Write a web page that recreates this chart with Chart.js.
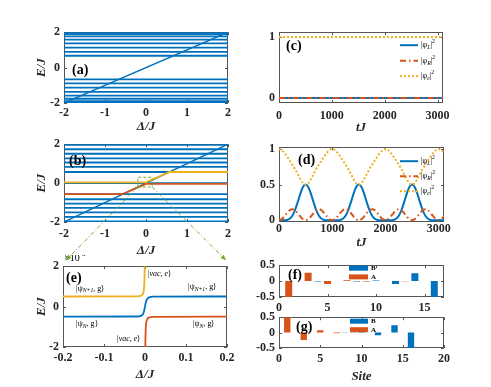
<!DOCTYPE html>
<html lang="en">
<head>
<meta charset="UTF-8">
<title>Spectrum, dynamics and edge states</title>
<script src="https://cdn.jsdelivr.net/npm/chart.js"></script>
<style>
  body { margin: 0; background: #fff; }
  #fig { position: relative; width: 491px; height: 387px; overflow: hidden; background: #fff; }
  #fig canvas { position: absolute; }
</style>
</head>
<body>
<div id="fig">
  <canvas id="pa" width="206" height="113" style="left:34px;top:21px"></canvas>
  <canvas id="pb" width="206" height="125" style="left:34px;top:133px"></canvas>
  <canvas id="pc" width="217" height="114" style="left:239px;top:21px"></canvas>
  <canvas id="pd" width="217" height="114" style="left:239px;top:136px"></canvas>
  <canvas id="pe" width="205" height="127" style="left:34px;top:255px"></canvas>
  <canvas id="pf" width="217" height="59" style="left:239px;top:254px"></canvas>
  <canvas id="pg" width="217" height="78" style="left:239px;top:306px"></canvas>
  <canvas id="arrows" width="491" height="387" style="left:0;top:0"></canvas>
</div>

<script>
  // ---------- data ----------
  const deltaRange = [-2, 2];
  const levelsA = [1.97, 1.89, 1.76, 1.58, 1.37, 1.13, 0.89, 0.67, -0.67, -0.89, -1.13, -1.37, -1.58, -1.76, -1.89, -1.97];
  const levelsB = [1.97, 1.74, 1.51, 1.27, 1.06, 0.83, 0.57, -0.57, -0.83, -1.06, -1.27, -1.51, -1.74, -1.97];
  const diagX = [-2, 2];
  const diagY = [-2, 2];
  const bBlueX = [-2, 2];
  const bBlueY = [0, 0];
  const bRedX = [-2, -0.57, 0, 2];
  const bRedY = [-0.57, -0.57, -0.04, -0.04];
  const bYellowX = [-2, 0, 0.57, 2];
  const bYellowY = [0.04, 0.04, 0.57, 0.57];
  const zoomBoxX = [-0.2, 0.15, 0.15, -0.2, -0.2];
  const zoomBoxY = [-0.2, -0.2, 0.3, 0.3, -0.2];

  const tC = [0, 3100];
  const cL = [0, 0];
  const cR = [0, 0];
  const cE = [1, 1];

  const tD = [0, 50, 100, 150, 200, 250, 300, 350, 400, 450, 500, 550, 600, 650, 700, 750, 800, 850, 900, 950,
    1000, 1050, 1100, 1150, 1200, 1250, 1300, 1350, 1400, 1450, 1500, 1550, 1600, 1650, 1700, 1750, 1800, 1850, 1900, 1950,
    2000, 2050, 2100, 2150, 2200, 2250, 2300, 2350, 2400, 2450, 2500, 2550, 2600, 2650, 2700, 2750, 2800, 2850, 2900, 2950,
    3000, 3050, 3100];
  const dL = [0, 0, 0, 0.004, 0.021, 0.062, 0.14, 0.25, 0.37, 0.465, 0.5, 0.465, 0.37, 0.25, 0.14, 0.062, 0.021, 0.004, 0, 0,
    0, 0, 0, 0.004, 0.021, 0.062, 0.14, 0.25, 0.37, 0.465, 0.5, 0.465, 0.37, 0.25, 0.14, 0.062, 0.021, 0.004, 0, 0,
    0, 0, 0, 0.004, 0.021, 0.062, 0.14, 0.25, 0.37, 0.465, 0.5, 0.465, 0.37, 0.25, 0.14, 0.062, 0.021, 0.004, 0, 0,
    0, 0, 0];
  const dR = [0, 0.015, 0.053, 0.1, 0.14, 0.155, 0.14, 0.1, 0.053, 0.015, 0, 0.015, 0.053, 0.1, 0.14, 0.155, 0.14, 0.1, 0.053, 0.015,
    0, 0.015, 0.053, 0.1, 0.14, 0.155, 0.14, 0.1, 0.053, 0.015, 0, 0.015, 0.053, 0.1, 0.14, 0.155, 0.14, 0.1, 0.053, 0.015,
    0, 0.015, 0.053, 0.1, 0.14, 0.155, 0.14, 0.1, 0.053, 0.015, 0, 0.015, 0.053, 0.1, 0.14, 0.155, 0.14, 0.1, 0.053, 0.015,
    0, 0.015, 0.053];
  const dE = [1, 0.985, 0.947, 0.896, 0.839, 0.78, 0.72, 0.65, 0.577, 0.52, 0.5, 0.52, 0.577, 0.65, 0.72, 0.78, 0.839, 0.896, 0.947, 0.985,
    1, 0.985, 0.947, 0.896, 0.839, 0.78, 0.72, 0.65, 0.577, 0.52, 0.5, 0.52, 0.577, 0.65, 0.72, 0.78, 0.839, 0.896, 0.947, 0.985,
    1, 0.985, 0.947, 0.896, 0.839, 0.78, 0.72, 0.65, 0.577, 0.52, 0.5, 0.52, 0.577, 0.65, 0.72, 0.78, 0.839, 0.896, 0.947, 0.985,
    1, 0.985, 0.947];

  // (e) zoom near Delta = 0, energies in units of 1e-3
  const eYellowX = [-0.2, -0.02, -0.01, -0.006, -0.004, -0.002, -0.001, 0];
  const eYellowY = [0.5, 0.51, 0.54, 0.6, 0.7, 1.0, 1.6, 3];
  const eBlueX = [-0.2, -0.02, -0.01, -0.006, -0.004, -0.002, 0, 0.002, 0.004, 0.006, 0.01, 0.02, 0.2];
  const eBlueY = [-0.5, -0.49, -0.46, -0.4, -0.33, -0.2, 0, 0.2, 0.33, 0.4, 0.46, 0.49, 0.5];
  const eRedX = [0, 0.001, 0.002, 0.004, 0.006, 0.01, 0.02, 0.2];
  const eRedY = [-3, -1.6, -1.0, -0.7, -0.6, -0.54, -0.51, -0.5];

  const sitesA = [1, 3, 5, 7, 9, 11, 13, 15];
  const sitesB = [2, 4, 6, 8, 10, 12, 14, 16];
  const fA = [-0.64, 0.26, -0.09, 0.03, -0.015, 0, -0.005, 0];
  const fB = [0, -0.01, 0, -0.01, 0.02, -0.09, 0.25, -0.64];
  const gA = [0.64, -0.24, 0.08, -0.02, 0.01, 0, 0, 0];
  const gB = [0, 0, 0, 0.01, 0.03, -0.09, 0.24, -0.64];

  const ticksDelta = [-2, -1, 0, 1, 2];
  const ticksE = [-2, 0, 2];
  const ticksT = [0, 1000, 2000, 3000];
  const ticksC = [0, 1];
  const ticksD = [0, 0.5, 1];
  const ticksZoomX = [-0.2, -0.1, 0, 0.1, 0.2];
  const ticksSiteF = [0, 5, 10, 15];
  const ticksSiteG = [0, 5, 10, 15, 20];
  const ticksAmp = [-0.5, 0, 0.5];

  // ---------- styling ----------
  const blue = '#0072BD', orange = '#D95319', yellow = '#EDB120', green = '#77AC30';
  const ink = '#262626';
  const serif = "'Liberation Serif', 'Times New Roman', serif";
  Chart.defaults.font.family = serif;
  Chart.defaults.font.size = 12;
  Chart.defaults.font.weight = 'bold';
  Chart.defaults.color = ink;
  const titleFont = { family: serif, size: 13, weight: 'bold', style: 'italic', lineHeight: 1.2 };

  function pts(xs, ys) {
    return xs.map((x, i) => ({ x: x, y: ys[i] }));
  }
  function line(xs, ys, color, width, dash, order) {
    return { data: pts(xs, ys), borderColor: color, borderWidth: width, borderDash: dash || [],
      pointRadius: 0, fill: false, tension: 0, order: order || 0 };
  }
  function curve(xs, ys, color, width, dash, order) {
    const d = line(xs, ys, color, width, dash, order);
    d.cubicInterpolationMode = 'monotone';
    return d;
  }

  function xAxis(min, max, ticks, height, pad, title) {
    return {
      type: 'linear', min: min, max: max, offset: false,
      grid: { display: false, drawTicks: false, offset: false }, border: { display: false },
      ticks: { padding: pad, autoSkip: false, maxRotation: 0, callback: v => String(v) },
      afterBuildTicks: s => { s.ticks = ticks.map(v => ({ value: v })); },
      afterFit: s => { s.height = height; },
      title: { display: !!title, text: title || '', font: titleFont, color: ink, padding: 0 }
    };
  }
  function yAxis(min, max, ticks, width, title) {
    return {
      type: 'linear', min: min, max: max,
      grid: { display: false, drawTicks: false }, border: { display: false },
      ticks: { padding: 4, autoSkip: false, callback: v => String(v) },
      afterBuildTicks: s => { s.ticks = ticks.map(v => ({ value: v })); },
      afterFit: s => { s.width = width; },
      title: { display: !!title, text: title || '', font: titleFont, color: ink, padding: 0 }
    };
  }

  // box with inward ticks on all four sides, like the original axes
  const frame = {
    id: 'frame',
    beforeDatasetsDraw(chart) {
      const { ctx, chartArea: a, scales } = chart;
      ctx.save();
      ctx.strokeStyle = '#555';
      ctx.lineWidth = 1;
      ctx.strokeRect(Math.round(a.left) + 0.5, Math.round(a.top) + 0.5, Math.round(a.width) - 1, Math.round(a.height) - 1);
      ctx.beginPath();
      scales.x.ticks.forEach(t => {
        const p = Math.round(scales.x.getPixelForValue(t.value)) + 0.5;
        ctx.moveTo(p, a.bottom); ctx.lineTo(p, a.bottom - 3);
        ctx.moveTo(p, a.top); ctx.lineTo(p, a.top + 3);
      });
      scales.y.ticks.forEach(t => {
        const p = Math.round(scales.y.getPixelForValue(t.value)) + 0.5;
        ctx.moveTo(a.left, p); ctx.lineTo(a.left + 3, p);
        ctx.moveTo(a.right, p); ctx.lineTo(a.right - 3, p);
      });
      ctx.stroke();
      ctx.restore();
    }
  };

  // text with sub/superscripts: parts = [[text, 'sub'|'sup'|'', italic]]
  function rich(ctx, parts, x, y, size, weight) {
    ctx.textAlign = 'left';
    ctx.textBaseline = 'middle';
    parts.forEach(p => {
      const kind = p[1] || '';
      const s = kind ? size * 0.72 : size;
      const dy = kind === 'sub' ? size * 0.32 : kind === 'sup' ? -size * 0.42 : 0;
      ctx.font = (p[2] || kind === 'sub' ? 'italic ' : '') + (weight || 'normal') + ' ' + s + 'px ' + serif;
      ctx.fillText(p[0], x, y + dy);
      x += ctx.measureText(p[0]).width;
    });
  }

  function tag(text, dx, dy) {
    return {
      id: 'tag',
      afterDatasetsDraw(chart) {
        const { ctx, chartArea: a } = chart;
        ctx.save();
        ctx.fillStyle = '#000';
        ctx.font = 'bold 14px ' + serif;
        ctx.textAlign = 'left';
        ctx.textBaseline = 'middle';
        ctx.fillText(text, a.left + dx, a.top + dy);
        ctx.restore();
      }
    };
  }

  function keys(items, dx, dy, gap, w, size) {
    return {
      id: 'keys',
      afterDatasetsDraw(chart) {
        const { ctx, chartArea: a } = chart;
        ctx.save();
        items.forEach((it, i) => {
          const x = a.left + dx, y = a.top + dy + i * gap;
          if (it.patch) {
            ctx.fillStyle = it.color;
            ctx.fillRect(x, y - 2.5, w, 5);
          } else {
            ctx.strokeStyle = it.color;
            ctx.lineWidth = 2;
            ctx.setLineDash(it.dash || []);
            ctx.beginPath(); ctx.moveTo(x, y); ctx.lineTo(x + w, y); ctx.stroke();
            ctx.setLineDash([]);
          }
          ctx.fillStyle = '#000';
          rich(ctx, it.text, x + w + 3, y, size, it.patch ? 'bold' : 'normal');
        });
        ctx.restore();
      }
    };
  }

  const phi = s => [['|φ'], [s, 'sub'], ['|'], ['2', 'sup']];
  const ketPsi = s => [['|ψ'], [s, 'sub'], [', g⟩']];
  const ketVac = [['|'], ['vac, e', '', true], ['⟩']];
  const eNotes = [
    { x: -0.168, y: 0.9, parts: ketPsi('N+1') },
    { x: 0.007, y: 1.62, parts: ketVac },
    { x: 0.105, y: 0.98, parts: ketPsi('N+1') },
    { x: -0.168, y: -0.88, parts: ketPsi('N') },
    { x: -0.068, y: -1.6, parts: ketVac },
    { x: 0.117, y: -0.88, parts: ketPsi('N') }
  ];
  const notes = {
    id: 'notes',
    afterDatasetsDraw(chart) {
      const { ctx, chartArea: a, scales } = chart;
      ctx.save();
      ctx.fillStyle = '#000';
      eNotes.forEach(n => rich(ctx, n.parts, scales.x.getPixelForValue(n.x), scales.y.getPixelForValue(n.y), 8));
      rich(ctx, [['×10'], ['-3', 'sup']], a.left + 1, a.top - 8, 10);
      ctx.restore();
    }
  };

  function makePanel(id, type, datasets, x, y, extras) {
    return new Chart(document.getElementById(id), {
      type: type,
      data: { datasets: datasets },
      options: {
        responsive: false, animation: false, devicePixelRatio: 1,
        layout: { padding: { top: 8, right: 12, bottom: 0, left: 0 } },
        plugins: { legend: { display: false }, tooltip: { enabled: false } },
        scales: { x: x, y: y }
      },
      plugins: [frame].concat(extras)
    });
  }

  // ---------- (a) ----------
  const setsA = [line(diagX, diagY, blue, 1.5, null, 0)];
  levelsA.forEach(E => setsA.push(line(deltaRange, [E, E], blue, 1.8, null, 1)));
  makePanel('pa', 'line', setsA,
    xAxis(-2, 2, ticksDelta, 31, 3, 'Δ/J'), yAxis(-2, 2, ticksE, 30, 'E/J'), [tag('(a)', 8, 38)]);

  // ---------- (b) ----------
  const setsB = [
    line(zoomBoxX, zoomBoxY, green, 1, [3, 2], 0),
    line(bYellowX, bYellowY, yellow, 1.8, null, 1),
    line(bRedX, bRedY, orange, 1.8, null, 2),
    line(bBlueX, bBlueY, blue, 1.8, null, 3),
    line(diagX, diagY, blue, 1.5, null, 4)
  ];
  levelsB.forEach(E => setsB.push(line(deltaRange, [E, E], blue, 1.8, null, 5)));
  const chartB = makePanel('pb', 'line', setsB,
    xAxis(-2, 2, ticksDelta, 36, 5, 'Δ/J'), yAxis(-2, 2, ticksE, 30, 'E/J'), [tag('(b)', 5, 17)]);

  // ---------- (c) ----------
  const keyItems = [
    { color: blue, text: phi('L') },
    { color: orange, dash: [6, 3, 1.5, 3], text: phi('R') },
    { color: yellow, dash: [2, 2], text: phi('e') }
  ];
  makePanel('pc', 'line', [
    line(tC, cE, yellow, 2, [2, 2], 0),
    line(tC, cR, orange, 2, [6, 3, 1.5, 3], 1),
    line(tC, cL, blue, 2, null, 2)
  ], xAxis(0, 3100, ticksT, 32, 6, 'tJ'), yAxis(-0.08, 1.08, ticksC, 40),
  [tag('(c)', 7, 14), keys(keyItems, 121, 13, 15.5, 18, 8)]);

  // ---------- (d) ----------
  makePanel('pd', 'line', [
    curve(tD, dE, yellow, 2, [2, 2], 0),
    curve(tD, dR, orange, 2, [6, 3, 1.5, 3], 1),
    curve(tD, dL, blue, 2, null, 2)
  ], xAxis(0, 3100, ticksT, 28, 0, 'tJ'), yAxis(-0.025, 1.025, ticksD, 40),
  [tag('(d)', 19, 13), keys(keyItems, 121, 14, 15, 18, 8)]);

  // ---------- (e) ----------
  const chartE = makePanel('pe', 'line', [
    curve(eYellowX, eYellowY, yellow, 1.8, null, 0),
    curve(eRedX, eRedY, orange, 1.8, null, 1),
    curve(eBlueX, eBlueY, blue, 1.8, null, 2)
  ], xAxis(-0.2, 0.2, ticksZoomX, 35, 4, 'Δ/J'), yAxis(-2, 2, ticksE, 29, 'E/J'),
  [tag('(e)', 3, 12), notes]);

  // ---------- (f), (g) ----------
  function bars(xs, ys, color, pct) {
    return { data: pts(xs, ys), backgroundColor: color, borderWidth: 0, grouped: false,
      barPercentage: pct, categoryPercentage: 1 };
  }
  const barKeys = [{ patch: true, color: blue, text: [['B']] }, { patch: true, color: orange, text: [['A']] }];
  makePanel('pf', 'bar', [bars(sitesB, fB, blue, 0.72), bars(sitesA, fA, orange, 0.72)],
    xAxis(0, 17, ticksSiteF, 16, 4), yAxis(-0.5, 0.5, ticksAmp, 40),
    [tag('(f)', 9, 10), keys(barKeys, 70, 3, 8.7, 19, 7)]);
  makePanel('pg', 'bar', [bars(sitesB, gB, blue, 0.77), bars(sitesA, gA, orange, 0.77)],
    xAxis(0, 20, ticksSiteG, 36, 4, 'Site'), yAxis(-0.5, 0.5, ticksAmp, 40),
    [tag('(g)', 17, 10), keys(barKeys, 71, 4, 8.5, 18, 7)]);

  // ---------- zoom arrows from (b) to (e) ----------
  const ov = document.getElementById('arrows').getContext('2d');
  const cb = document.getElementById('pb'), ce = document.getElementById('pe');
  function arrow(x1, y1, x2, y2) {
    ov.save();
    ov.strokeStyle = green; ov.fillStyle = green; ov.lineWidth = 1;
    ov.setLineDash([4, 2, 1, 2]);
    ov.beginPath(); ov.moveTo(x1, y1); ov.lineTo(x2, y2); ov.stroke();
    ov.setLineDash([]);
    const ang = Math.atan2(y2 - y1, x2 - x1);
    ov.beginPath();
    ov.moveTo(x2, y2);
    ov.lineTo(x2 - 6 * Math.cos(ang - 0.4), y2 - 6 * Math.sin(ang - 0.4));
    ov.lineTo(x2 - 6 * Math.cos(ang + 0.4), y2 - 6 * Math.sin(ang + 0.4));
    ov.closePath(); ov.fill();
    ov.restore();
  }
  const bx = v => cb.offsetLeft + chartB.scales.x.getPixelForValue(v);
  const by = v => cb.offsetTop + chartB.scales.y.getPixelForValue(v);
  const ea = chartE.chartArea;
  arrow(bx(zoomBoxX[0]), by(zoomBoxY[0]), ce.offsetLeft + ea.left + 3, ce.offsetTop + ea.top - 6);
  arrow(bx(zoomBoxX[1]), by(zoomBoxY[1]), ce.offsetLeft + ea.right - 1, ce.offsetTop + ea.top - 6);
</script>
</body>
</html>
